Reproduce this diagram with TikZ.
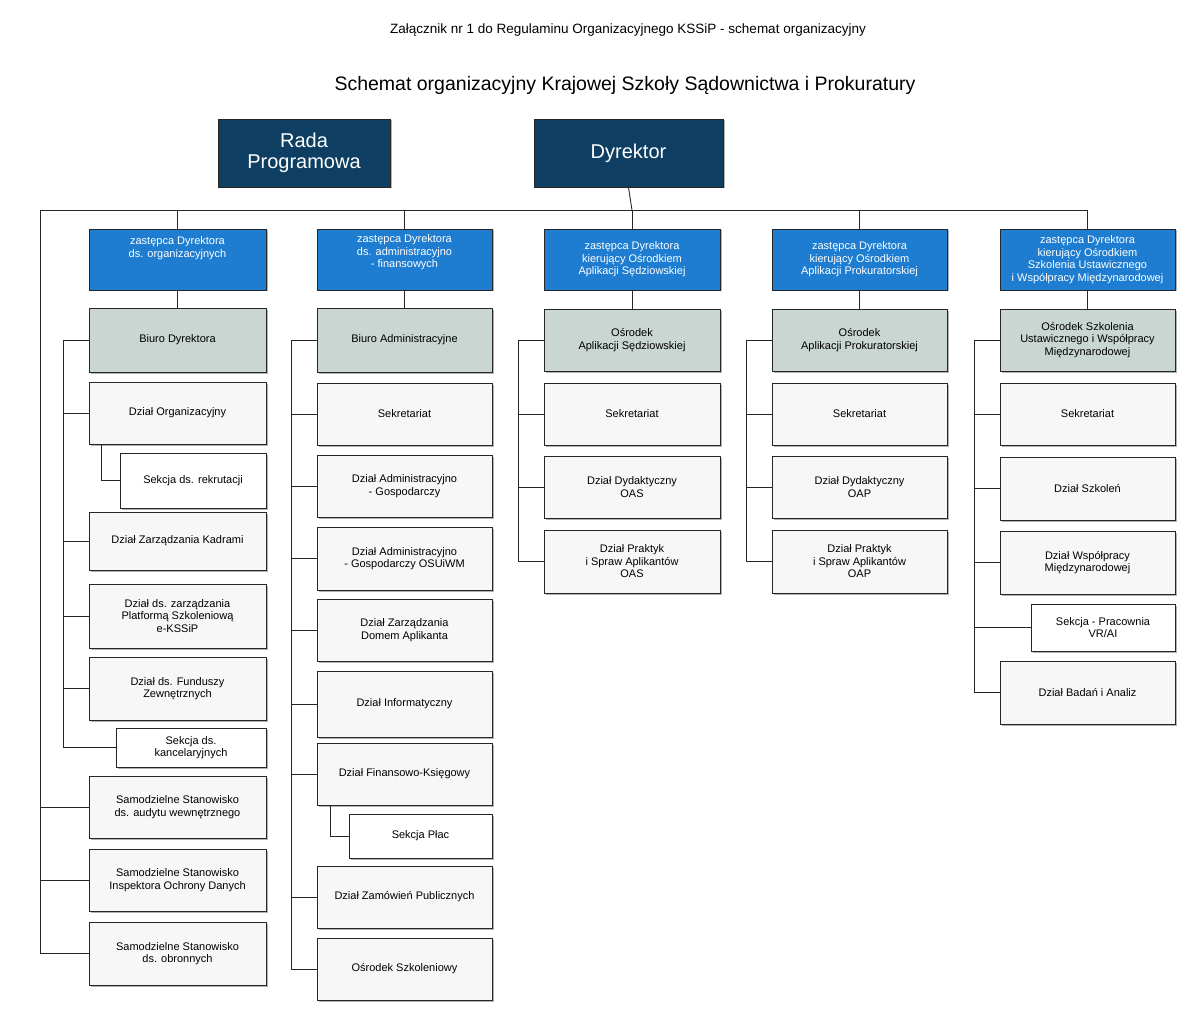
\documentclass[tikz,border=0pt]{standalone}
\usepackage{fontspec}
\setmainfont{Liberation Sans}
\begin{document}
\begin{tikzpicture}[x=1pt,y=-1pt,
  base/.style={draw=black!85,line width=0.9pt,align=center,inner sep=1pt,font=\fontsize{11}{12.5}\selectfont,
     preaction={fill=black!30,transform canvas={shift={(1.5pt,-1.5pt)}}}},
  dk/.style={base,fill=navy,text=white,font=\fontsize{20}{21}\selectfont},
  bl/.style={base,fill=blu,text=white},
  gr/.style={base,fill=grn},
  wh/.style={base,fill=black!3},
  sk/.style={base,fill=white},
  ln/.style={line width=0.9pt,black!85}]
\definecolor{navy}{HTML}{0E3F62}
\definecolor{blu}{HTML}{1E7DD0}
\definecolor{grn}{HTML}{C9D6D2}
\useasboundingbox (0,0) rectangle (1200,1019);
\newcommand\bx[7]{\node[#6,minimum width={#4-#2},minimum height={#5-#3}] (#1) at ({(#2+#4)/2},{(#3+#5)/2}) {#7};}
\node[font=\fontsize{13.5}{14}\selectfont] (t1) at (628,30) {Załącznik nr 1 do Regulaminu Organizacyjnego KSSiP - schemat organizacyjny};
\node[font=\fontsize{19.5}{20}\selectfont] (t2) at (625,85) {Schemat organizacyjny Krajowej Szkoły Sądownictwa i Prokuratury};
\bx{rada}{218}{119}{390}{187}{dk}{Rada\\Programowa}
\bx{dyr}{534}{119}{723}{187}{dk}{Dyrektor}
% bus
\coordinate (bL) at (40,210); \coordinate (bR) at (1088,210);
\coordinate (bD) at (632,210);
\draw[ln] (dyr.south) -- (bD);
\draw[ln] (bL) -- (bR);
% blue
\bx{z1}{89}{229}{266}{290}{bl}{zastępca Dyrektora\\ds. organizacyjnych\\[12pt]}
\bx{z2}{317}{229}{492}{290}{bl}{zastępca Dyrektora\\ds. administracyjno\\- finansowych\\[4pt]}
\bx{z3}{544}{229}{720}{290}{bl}{zastępca Dyrektora\\kierujący Ośrodkiem\\Aplikacji Sędziowskiej}
\bx{z4}{772}{229}{947}{290}{bl}{zastępca Dyrektora\\kierujący Ośrodkiem\\Aplikacji Prokuratorskiej}
\bx{z5}{1000}{229}{1175}{290}{bl}{zastępca Dyrektora\\kierujący Ośrodkiem\\Szkolenia Ustawicznego\\i Współpracy Międzynarodowej}
\foreach \z in {z1,z2,z3,z4,z5}{\draw[ln] (\z.north) -- (\z.north |- bL);}
% column 1
\bx{c1a}{89}{308}{266}{372}{gr}{Biuro Dyrektora}
\bx{c1b}{89}{382}{266}{444}{wh}{Dział Organizacyjny}
\bx{c1c}{120}{453}{266}{508}{sk}{Sekcja ds. rekrutacji}
\bx{c1d}{89}{512}{266}{570}{wh}{Dział Zarządzania Kadrami}
\bx{c1e}{89}{584}{266}{648}{wh}{Dział ds. zarządzania\\Platformą Szkoleniową\\e-KSSiP}
\bx{c1f}{89}{657}{266}{720}{wh}{Dział ds. Funduszy\\Zewnętrznych}
\bx{c1g}{116}{728}{266}{767}{sk}{Sekcja ds.\\kancelaryjnych}
\bx{s1}{89}{776}{266}{838}{wh}{Samodzielne Stanowisko\\ds. audytu wewnętrznego}
\bx{s2}{89}{849}{266}{911}{wh}{Samodzielne Stanowisko\\Inspektora Ochrony Danych}
\bx{s3}{89}{922}{266}{985}{wh}{Samodzielne Stanowisko\\ds. obronnych}
\draw[ln] (z1.south) -- (c1a.north);
\coordinate (l1t) at (63,340); \coordinate (l1b) at (63,747);
\draw[ln] (l1t) -- (l1b);
\foreach \n in {c1a,c1b,c1d,c1e,c1f,c1g}{\draw[ln] (\n.west) -- (\n.west -| l1t);}
\coordinate (r1) at (101,444);
\draw[ln] (r1) |- (c1c.west);
\coordinate (bLb) at (40,953);
\draw[ln] (bL) -- (bLb);
\foreach \n in {s1,s2,s3}{\draw[ln] (\n.west) -- (\n.west -| bL);}
% column 2
\bx{c2a}{317}{308}{492}{372}{gr}{Biuro Administracyjne}
\bx{c2b}{317}{383}{492}{445}{wh}{Sekretariat}
\bx{c2c}{317}{455}{492}{517}{wh}{Dział Administracyjno\\- Gospodarczy}
\bx{c2d}{317}{527}{492}{590}{wh}{Dział Administracyjno\\- Gospodarczy OSUiWM}
\bx{c2e}{317}{599}{492}{661}{wh}{Dział Zarządzania\\Domem Aplikanta}
\bx{c2f}{317}{671}{492}{737}{wh}{Dział Informatyczny}
\bx{c2g}{317}{743}{492}{805}{wh}{Dział Finansowo-Księgowy}
\bx{c2h}{349}{814}{492}{858}{sk}{Sekcja Płac}
\bx{c2i}{317}{866}{492}{928}{wh}{Dział Zamówień Publicznych}
\bx{c2j}{317}{938}{492}{1000}{wh}{Ośrodek Szkoleniowy}
\draw[ln] (z2.south) -- (c2a.north);
\coordinate (l2t) at (291,340); \coordinate (l2b) at (291,969);
\draw[ln] (l2t) -- (l2b);
\foreach \n in {c2a,c2b,c2c,c2d,c2e,c2f,c2g,c2i,c2j}{\draw[ln] (\n.west) -- (\n.west -| l2t);}
\coordinate (r2) at (330,805);
\draw[ln] (r2) |- (c2h.west);
% column 3
\bx{c3a}{544}{309}{720}{371}{gr}{Ośrodek\\Aplikacji Sędziowskiej}
\bx{c3b}{544}{383}{720}{445}{wh}{Sekretariat}
\bx{c3c}{544}{456}{720}{518}{wh}{Dział Dydaktyczny\\OAS}
\bx{c3d}{544}{530}{720}{593}{wh}{Dział Praktyk\\i Spraw Aplikantów\\OAS}
\draw[ln] (z3.south) -- (c3a.north);
\coordinate (l3t) at (518,340); \coordinate (l3b) at (518,561.5);
\draw[ln] (l3t) -- (l3b);
\foreach \n in {c3a,c3b,c3c,c3d}{\draw[ln] (\n.west) -- (\n.west -| l3t);}
% column 4
\bx{c4a}{772}{309}{947}{371}{gr}{Ośrodek\\Aplikacji Prokuratorskiej}
\bx{c4b}{772}{383}{947}{445}{wh}{Sekretariat}
\bx{c4c}{772}{456}{947}{518}{wh}{Dział Dydaktyczny\\OAP}
\bx{c4d}{772}{530}{947}{593}{wh}{Dział Praktyk\\i Spraw Aplikantów\\OAP}
\draw[ln] (z4.south) -- (c4a.north);
\coordinate (l4t) at (746,340); \coordinate (l4b) at (746,561.5);
\draw[ln] (l4t) -- (l4b);
\foreach \n in {c4a,c4b,c4c,c4d}{\draw[ln] (\n.west) -- (\n.west -| l4t);}
% column 5
\bx{c5a}{1000}{309}{1175}{371}{gr}{Ośrodek Szkolenia\\Ustawicznego i Współpracy\\Międzynarodowej}
\bx{c5b}{1000}{383}{1175}{445}{wh}{Sekretariat}
\bx{c5c}{1000}{457}{1175}{520}{wh}{Dział Szkoleń}
\bx{c5d}{1000}{531}{1175}{594}{wh}{Dział Współpracy\\Międzynarodowej}
\bx{c5e}{1031}{604}{1175}{651}{sk}{Sekcja - Pracownia\\VR/AI}
\bx{c5f}{1000}{661}{1175}{724}{wh}{Dział Badań i Analiz}
\draw[ln] (z5.south) -- (c5a.north);
\coordinate (l5t) at (974,340); \coordinate (l5b) at (974,692.5);
\draw[ln] (l5t) -- (l5b);
\foreach \n in {c5a,c5b,c5c,c5d,c5e,c5f}{\draw[ln] (\n.west) -- (\n.west -| l5t);}
\end{tikzpicture}
\end{document}
